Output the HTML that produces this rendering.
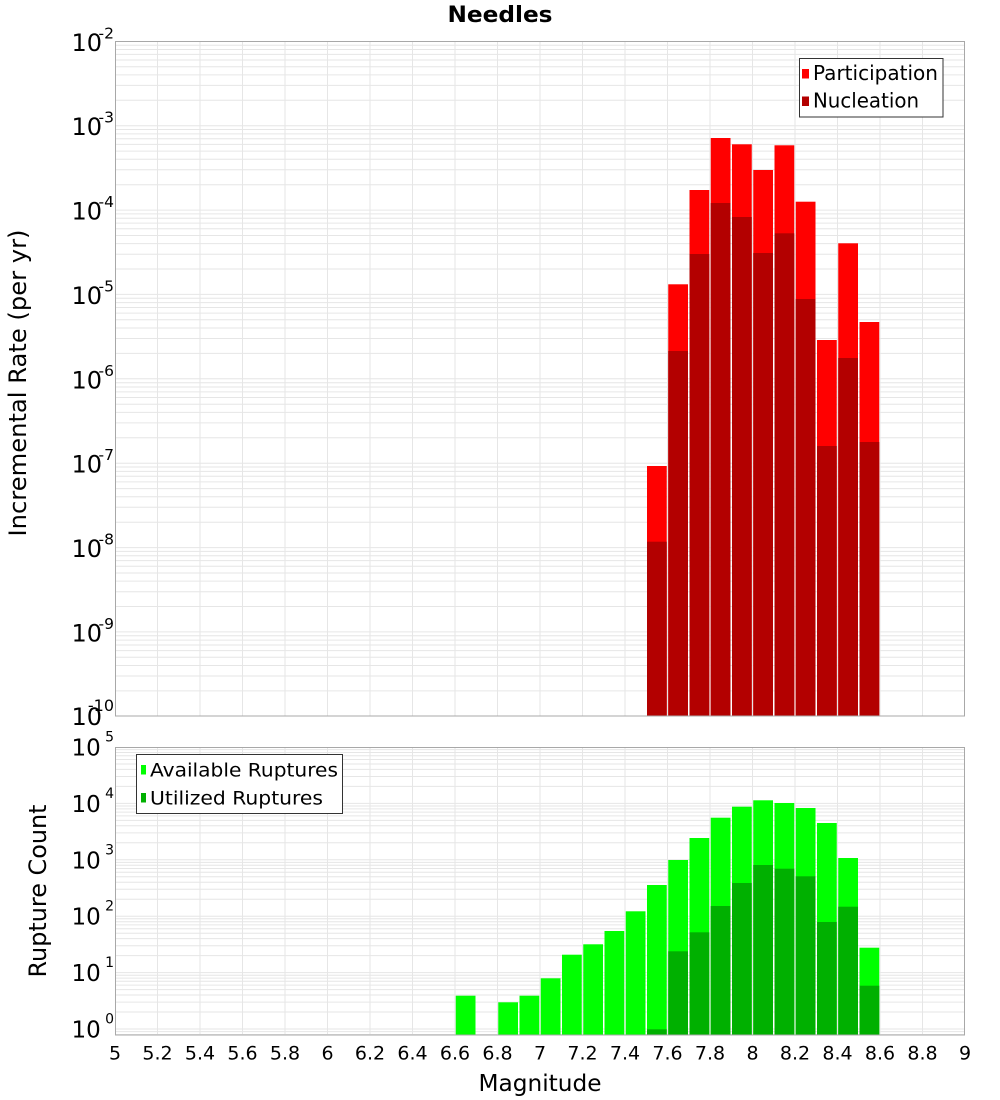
<!DOCTYPE html>
<html>
<head>
<meta charset="utf-8">
<style>
html,body{margin:0;padding:0;background:#fff;}
svg{display:block;}
text{font-family:"DejaVu Sans","Liberation Sans",sans-serif;fill:#000;}
</style>
</head>
<body>
<svg width="1000" height="1100" viewBox="0 0 1000 1100" xmlns="http://www.w3.org/2000/svg">
<rect x="0" y="0" width="1000" height="1100" fill="#fff"/>

<!-- Title -->
<text x="500" y="22" text-anchor="middle" font-size="22" font-weight="bold" textLength="105" lengthAdjust="spacingAndGlyphs">Needles</text>

<!-- ===== TOP PLOT ===== -->
<g stroke="#e6e6e6" stroke-width="1" fill="none">
<path d="M115 45.2H965M115 49.5H965M115 54.4H965M115 60.0H965M115 66.7H965M115 74.9H965M115 85.4H965M115 100.3H965M115 125.7H965
M115 129.5H965M115 133.9H965M115 138.7H965M115 144.4H965M115 151.1H965M115 159.3H965M115 169.8H965M115 184.7H965M115 210.1H965
M115 213.9H965M115 218.2H965M115 223.1H965M115 228.8H965M115 235.5H965M115 243.6H965M115 254.2H965M115 269.0H965M115 294.4H965
M115 298.3H965M115 302.6H965M115 307.5H965M115 313.1H965M115 319.8H965M115 328.0H965M115 338.5H965M115 353.4H965M115 378.8H965
M115 382.7H965M115 387.0H965M115 391.9H965M115 397.5H965M115 404.2H965M115 412.4H965M115 422.9H965M115 437.8H965M115 463.2H965
M115 467.0H965M115 471.4H965M115 476.2H965M115 481.9H965M115 488.6H965M115 496.8H965M115 507.3H965M115 522.2H965M115 547.6H965
M115 551.4H965M115 555.7H965M115 560.6H965M115 566.3H965M115 573.0H965M115 581.1H965M115 591.7H965M115 606.5H965M115 631.9H965
M115 635.8H965M115 640.1H965M115 645.0H965M115 650.6H965M115 657.3H965M115 665.5H965M115 676.0H965M115 690.9H965"/>
<path d="M157.5 41V716M200 41V716M242.5 41V716M285 41V716M327.5 41V716M370 41V716M412.5 41V716M455 41V716M497.5 41V716M540 41V716M582.5 41V716M625 41V716M667.5 41V716M710 41V716M752.5 41V716M795 41V716M837.5 41V716M880 41V716M922.5 41V716"/>
</g>

<!-- participation bars -->
<g fill="#ff0000">
<rect x="647" y="466" width="19.75" height="250"/>
<rect x="668.25" y="284.3" width="19.75" height="431.7"/>
<rect x="689.5" y="190" width="19.75" height="526"/>
<rect x="710.75" y="138" width="19.75" height="578"/>
<rect x="732" y="144.3" width="19.75" height="571.7"/>
<rect x="753.25" y="170" width="19.75" height="546"/>
<rect x="774.5" y="145.3" width="19.75" height="570.7"/>
<rect x="795.75" y="201.7" width="19.75" height="514.3"/>
<rect x="817" y="340" width="19.75" height="376"/>
<rect x="838.25" y="243.3" width="19.75" height="472.7"/>
<rect x="859.5" y="322" width="19.75" height="394"/>
</g>
<!-- nucleation bars -->
<g fill="#b30000">
<rect x="647" y="541.7" width="19.75" height="174.3"/>
<rect x="668.25" y="351" width="19.75" height="365"/>
<rect x="689.5" y="254" width="19.75" height="462"/>
<rect x="710.75" y="203" width="19.75" height="513"/>
<rect x="732" y="217" width="19.75" height="499"/>
<rect x="753.25" y="253" width="19.75" height="463"/>
<rect x="774.5" y="233.3" width="19.75" height="482.7"/>
<rect x="795.75" y="299" width="19.75" height="417"/>
<rect x="817" y="446" width="19.75" height="270"/>
<rect x="838.25" y="358" width="19.75" height="358"/>
<rect x="859.5" y="442" width="19.75" height="274"/>
</g>

<rect x="115.5" y="41.5" width="849" height="674.5" fill="none" stroke="#a8a8a8" stroke-width="1"/>

<!-- top legend -->
<rect x="799.5" y="58.5" width="143.5" height="58.5" fill="#fff" stroke="#333" stroke-width="1"/>
<rect x="802" y="69" width="7" height="9.5" fill="#ff0000"/>
<rect x="802" y="96.5" width="7" height="9.5" fill="#b30000"/>
<text x="813" y="80" font-size="20" textLength="125" lengthAdjust="spacingAndGlyphs">Participation</text>
<text x="813" y="107.5" font-size="20" textLength="106" lengthAdjust="spacingAndGlyphs">Nucleation</text>

<!-- top y tick labels -->
<g font-size="24">
<text x="71.5" y="51">10</text>
<text x="71.5" y="135.2">10</text>
<text x="71.5" y="219.6">10</text>
<text x="71.5" y="304">10</text>
<text x="71.5" y="388.3">10</text>
<text x="71.5" y="472.7">10</text>
<text x="71.5" y="557.1">10</text>
<text x="71.5" y="641.4">10</text>
<text x="71.5" y="725">10</text>
</g>
<g font-size="15.5" text-anchor="end">
<text x="114" y="38.3">-2</text>
<text x="114" y="122.7">-3</text>
<text x="114" y="207">-4</text>
<text x="114" y="291.4">-5</text>
<text x="114" y="375.8">-6</text>
<text x="114" y="460.2">-7</text>
<text x="114" y="544.5">-8</text>
<text x="114" y="628.9">-9</text>
<text x="114" y="711" font-size="16">-10</text>
</g>

<!-- top y axis label -->
<text transform="translate(26,383) rotate(-90)" text-anchor="middle" font-size="24" textLength="307" lengthAdjust="spacingAndGlyphs">Incremental Rate (per yr)</text>

<!-- ===== BOTTOM PLOT ===== -->
<g stroke="#e6e6e6" stroke-width="1" fill="none">
<path d="M115 1034.5H965M115 1031.6H965M115 1029H965
M115 1012.0H965M115 1002.1H965M115 995.0H965M115 989.6H965M115 985.1H965M115 981.3H965M115 978.1H965M115 975.2H965M115 972.6H965
M115 955.6H965M115 945.7H965M115 938.6H965M115 933.2H965M115 928.7H965M115 924.9H965M115 921.7H965M115 918.8H965M115 916.2H965
M115 899.2H965M115 889.3H965M115 882.2H965M115 876.8H965M115 872.3H965M115 868.5H965M115 865.3H965M115 862.4H965M115 859.8H965
M115 842.8H965M115 832.9H965M115 825.8H965M115 820.4H965M115 815.9H965M115 812.1H965M115 808.9H965M115 806.0H965M115 803.4H965
M115 786.4H965M115 776.5H965M115 769.4H965M115 764.0H965M115 759.5H965M115 755.7H965M115 752.5H965M115 749.6H965"/>
<path d="M157.5 747V1035M200 747V1035M242.5 747V1035M285 747V1035M327.5 747V1035M370 747V1035M412.5 747V1035M455 747V1035M497.5 747V1035M540 747V1035M582.5 747V1035M625 747V1035M667.5 747V1035M710 747V1035M752.5 747V1035M795 747V1035M837.5 747V1035M880 747V1035M922.5 747V1035"/>
</g>

<!-- available ruptures -->
<g fill="#00ff00">
<rect x="455.75" y="995.7" width="19.75" height="39.3"/>
<rect x="498.25" y="1002.3" width="19.75" height="32.7"/>
<rect x="519.5" y="995.7" width="19.75" height="39.3"/>
<rect x="540.75" y="978.3" width="19.75" height="56.7"/>
<rect x="562" y="954.7" width="19.75" height="80.3"/>
<rect x="583.25" y="944.3" width="19.75" height="90.7"/>
<rect x="604.5" y="931" width="19.75" height="104"/>
<rect x="625.75" y="911.3" width="19.75" height="123.7"/>
<rect x="647" y="885" width="19.75" height="150"/>
<rect x="668.25" y="860" width="19.75" height="175"/>
<rect x="689.5" y="838" width="19.75" height="197"/>
<rect x="710.75" y="817.7" width="19.75" height="217.3"/>
<rect x="732" y="806.7" width="19.75" height="228.3"/>
<rect x="753.25" y="800.3" width="19.75" height="234.7"/>
<rect x="774.5" y="803" width="19.75" height="232"/>
<rect x="795.75" y="808" width="19.75" height="227"/>
<rect x="817" y="823" width="19.75" height="212"/>
<rect x="838.25" y="858" width="19.75" height="177"/>
<rect x="859.5" y="947.7" width="19.75" height="87.3"/>
</g>
<!-- utilized ruptures -->
<g fill="#00b000">
<rect x="647" y="1029.3" width="19.75" height="5.7"/>
<rect x="668.25" y="951.3" width="19.75" height="83.7"/>
<rect x="689.5" y="932.3" width="19.75" height="102.7"/>
<rect x="710.75" y="906" width="19.75" height="129"/>
<rect x="732" y="883" width="19.75" height="152"/>
<rect x="753.25" y="865" width="19.75" height="170"/>
<rect x="774.5" y="868.7" width="19.75" height="166.3"/>
<rect x="795.75" y="876.3" width="19.75" height="158.7"/>
<rect x="817" y="922" width="19.75" height="113"/>
<rect x="838.25" y="906.7" width="19.75" height="128.3"/>
<rect x="859.5" y="985.7" width="19.75" height="49.3"/>
</g>

<rect x="115.5" y="747.5" width="849" height="287.5" fill="none" stroke="#a8a8a8" stroke-width="1"/>

<!-- bottom legend -->
<rect x="136.5" y="754.5" width="206" height="59" fill="#fff" stroke="#333" stroke-width="1"/>
<rect x="141" y="765" width="5" height="9.5" fill="#00ff00"/>
<rect x="141" y="793" width="5" height="9.5" fill="#00b000"/>
<text x="150" y="776.7" font-size="19" textLength="188" lengthAdjust="spacingAndGlyphs">Available Ruptures</text>
<text x="150" y="804.3" font-size="19" textLength="173" lengthAdjust="spacingAndGlyphs">Utilized Ruptures</text>

<!-- bottom y tick labels -->
<g font-size="23">
<text x="71.5" y="755.5">10</text>
<text x="71.5" y="811.9">10</text>
<text x="71.5" y="868.3">10</text>
<text x="71.5" y="924.7">10</text>
<text x="71.5" y="981.1">10</text>
<text x="71.5" y="1037.5">10</text>
</g>
<g font-size="14" text-anchor="end">
<text x="114" y="741.5">5</text>
<text x="114" y="797.9">4</text>
<text x="114" y="854.3">3</text>
<text x="114" y="910.7">2</text>
<text x="114" y="967.1">1</text>
<text x="114" y="1023.5">0</text>
</g>

<!-- bottom y axis label -->
<text transform="translate(46,891) rotate(-90)" text-anchor="middle" font-size="24" textLength="173" lengthAdjust="spacingAndGlyphs">Rupture Count</text>

<!-- x tick labels -->
<g font-size="19" text-anchor="middle">
<text x="115" y="1059.5">5</text>
<text x="157.5" y="1059.5">5.2</text>
<text x="200" y="1059.5">5.4</text>
<text x="242.5" y="1059.5">5.6</text>
<text x="285" y="1059.5">5.8</text>
<text x="327.5" y="1059.5">6</text>
<text x="370" y="1059.5">6.2</text>
<text x="412.5" y="1059.5">6.4</text>
<text x="455" y="1059.5">6.6</text>
<text x="497.5" y="1059.5">6.8</text>
<text x="540" y="1059.5">7</text>
<text x="582.5" y="1059.5">7.2</text>
<text x="625" y="1059.5">7.4</text>
<text x="667.5" y="1059.5">7.6</text>
<text x="710" y="1059.5">7.8</text>
<text x="752.5" y="1059.5">8</text>
<text x="795" y="1059.5">8.2</text>
<text x="837.5" y="1059.5">8.4</text>
<text x="880" y="1059.5">8.6</text>
<text x="922.5" y="1059.5">8.8</text>
<text x="965" y="1059.5">9</text>
</g>

<!-- x axis label -->
<text x="540" y="1091" text-anchor="middle" font-size="23" textLength="123" lengthAdjust="spacingAndGlyphs">Magnitude</text>
</svg>
</body>
</html>
